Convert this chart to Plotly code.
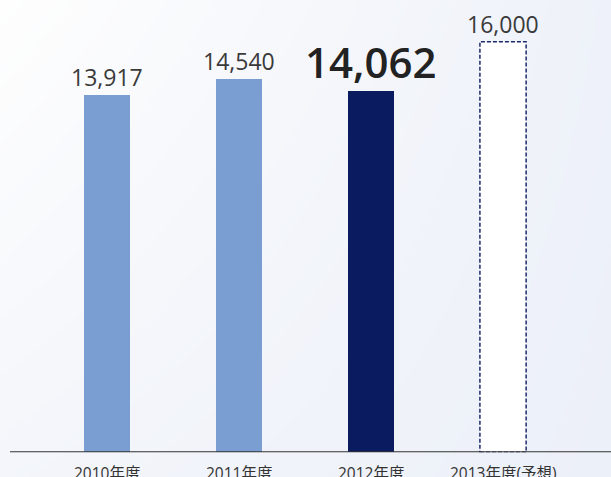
import plotly.graph_objects as go

categories = ["2010年度", "2011年度", "2012年度", "2013年度(予想)"]
values = [13917, 14540, 14062, 16000]
value_labels = ["13,917", "14,540", "14,062", "16,000"]
bar_colors = ["#7a9ed2", "#7a9ed2", "#0b1b5f", "#ffffff"]

W, H = 611, 477
bar_w = 0.35
x_range = [-0.735, 3.818]
y_range = [0, 17625]
x_dom = [10 / W, 1.0]
y_dom = [(H - 452.3) / H, 1.0]

fig = go.Figure()

# background diagonal gradient
fig.add_trace(go.Heatmap(
    x=[0, 1], y=[0, 1],
    z=[[0.55, 0.95], [0.0, 0.85]],
    zsmooth="best", showscale=False, hoverinfo="skip",
    colorscale=[[0, "#fefefe"], [1, "#ebeff8"]], zmin=0, zmax=1,
    xaxis="x", yaxis="y",
))

fig.add_trace(go.Bar(
    x=categories, y=values, width=bar_w,
    marker=dict(color=bar_colors, line=dict(width=0)),
    xaxis="x2", yaxis="y2", hoverinfo="skip",
))

shapes = []
# dashed outline for forecast bar
i4 = 3
shapes.append(dict(
    type="rect", xref="x2", yref="y2",
    x0=i4 - bar_w / 2, x1=i4 + bar_w / 2, y0=0, y1=values[3],
    line=dict(color="#1b2a6b", width=1.5, dash="4px,2px"),
    fillcolor="rgba(0,0,0,0)", layer="above",
))
# baseline shadow and line
shapes.append(dict(type="line", xref="paper", yref="y2", x0=x_dom[0], x1=1,
                   ysizemode="pixel", yanchor=0, y0=-2, y1=-2,
                   line=dict(color="#d5d8de", width=1.5), layer="above"))
shapes.append(dict(type="line", xref="paper", yref="y2", x0=x_dom[0], x1=1,
                   y0=0, y1=0, line=dict(color="#333333", width=2), layer="above"))

annotations = []
for i, (c, v, t) in enumerate(zip(categories, values, value_labels)):
    big = (i == 2)
    annotations.append(dict(
        xref="x2", yref="y2", x=c, y=v, text=t, showarrow=False,
        xanchor="center", yanchor="bottom", yshift=-1 if big else 0,
        font=dict(family="Open Sans, Noto Sans CJK JP", size=42 if big else 23,
                  color="#222222" if big else "#3a3a3a",
                  weight=600 if big else 400),
    ))
    annotations.append(dict(
        xref="x2", yref="paper", x=c, y=4.5 / H, text=c, showarrow=False,
        xanchor="center", yanchor="middle",
        font=dict(family="Open Sans, Noto Sans CJK JP", size=15.5, color="#333333"),
    ))

fig.update_layout(
    width=W, height=H,
    margin=dict(l=0, r=0, t=0, b=0),
    paper_bgcolor="#f6f8fb", plot_bgcolor="rgba(0,0,0,0)",
    showlegend=False,
    xaxis=dict(domain=[0, 1], range=[0, 1], visible=False, fixedrange=True),
    yaxis=dict(domain=[0, 1], range=[0, 1], visible=False, fixedrange=True),
    xaxis2=dict(domain=x_dom, range=x_range, anchor="y2", visible=False,
                type="category", categoryorder="array", categoryarray=categories),
    yaxis2=dict(domain=y_dom, range=y_range, anchor="x2", visible=False),
    shapes=shapes, annotations=annotations,
    bargap=0,
)

fig.write_html("out.html",
               config={"displayModeBar": False, "staticPlot": True},
               post_script="document.body.style.margin='0';document.body.style.overflow='hidden';")
